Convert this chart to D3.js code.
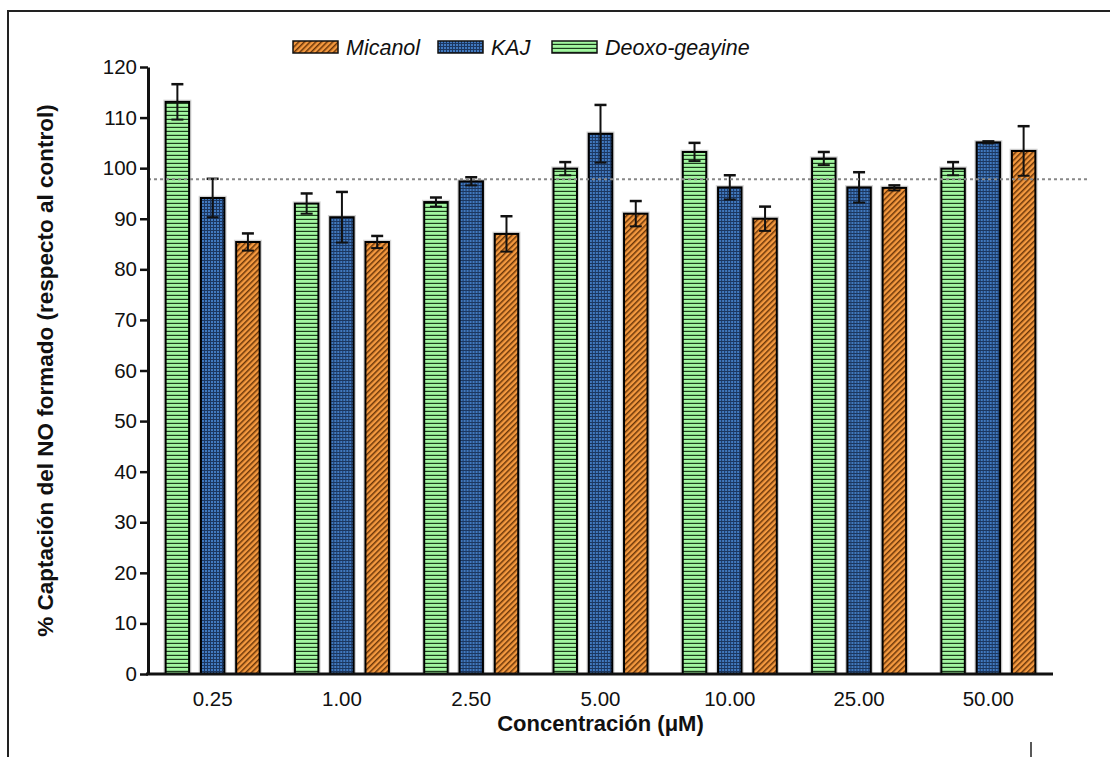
<!DOCTYPE html>
<html>
<head>
<meta charset="utf-8">
<script src="https://cdn.jsdelivr.net/npm/d3@7"></script>
<style>
  body { margin: 0; background: #fff; }
  svg { display: block; font-family: Arial, "Liberation Sans", sans-serif; }
</style>
</head>
<body>
<div id="chart"></div>
<script>
// data
const concentrations = ["0.25", "1.00", "2.50", "5.00", "10.00", "25.00", "50.00"];
const seriesNames = ["Deoxo-geayine", "KAJ", "Micanol"];
const deoxo = [113.1, 93.0, 93.3, 99.9, 103.2, 101.9, 99.9];
const deoxoErr = [3.5, 2.0, 0.9, 1.3, 1.8, 1.3, 1.3];
const kaj = [94.1, 90.3, 97.4, 106.8, 96.2, 96.2, 105.1];
const kajErr = [3.8, 5.0, 0.8, 5.7, 2.4, 3.0, 0.2];
const micanol = [85.4, 85.4, 87.0, 91.0, 90.0, 96.1, 103.4];
const micanolErr = [1.7, 1.2, 3.5, 2.5, 2.4, 0.5, 4.9];
const controlLevel = 97.8;
const yTicks = d3.range(0, 121, 10);
const legendOrder = ["Micanol", "KAJ", "Deoxo-geayine"];

const width = 1110, height = 757;
const margin = { left: 148, right: 57, top: 67, bottom: 83 };
const font = "Arial, 'Liberation Sans', sans-serif";

const svg = d3.select("#chart").append("svg")
  .attr("width", width)
  .attr("height", height);

// patterns for the bar fills
const defs = svg.append("defs");
let pg = defs.append("pattern").attr("id", "pat-green")
  .attr("patternUnits", "userSpaceOnUse").attr("width", 4).attr("height", 4);
pg.append("rect").attr("width", 4).attr("height", 4).attr("fill", "#a2f7a0");
pg.append("rect").attr("y", 2.8).attr("width", 4).attr("height", 1.2).attr("fill", "#1d3d1d");

let pb = defs.append("pattern").attr("id", "pat-blue")
  .attr("patternUnits", "userSpaceOnUse").attr("width", 3).attr("height", 3);
pb.append("rect").attr("width", 3).attr("height", 3).attr("fill", "#4179bf");
pb.append("rect").attr("x", 2).attr("y", 0).attr("width", 1).attr("height", 3).attr("fill", "#1c3760");
pb.append("rect").attr("x", 0).attr("y", 2).attr("width", 3).attr("height", 1).attr("fill", "#1c3760");

let po = defs.append("pattern").attr("id", "pat-orange")
  .attr("patternUnits", "userSpaceOnUse").attr("width", 4).attr("height", 4)
  .attr("patternTransform", "rotate(45)");
po.append("rect").attr("width", 4).attr("height", 4).attr("fill", "#f4993f");
po.append("rect").attr("x", 0).attr("width", 1.5).attr("height", 4).attr("fill", "#6b3608");

const fills = {
  "Deoxo-geayine": "url(#pat-green)",
  "KAJ": "url(#pat-blue)",
  "Micanol": "url(#pat-orange)"
};

// outer frame
svg.append("rect")
  .attr("x", 8).attr("y", 11)
  .attr("width", 1200).attr("height", 800)
  .attr("fill", "none").attr("stroke", "#222").attr("stroke-width", 2);
svg.append("line")
  .attr("x1", 1031).attr("x2", 1031).attr("y1", 742).attr("y2", 757)
  .attr("stroke", "#222").attr("stroke-width", 1.5);

const x0 = d3.scaleBand()
  .domain(concentrations)
  .range([margin.left, width - margin.right])
  .padding(0);
const x1 = d3.scaleBand()
  .domain(seriesNames)
  .range([0, x0.bandwidth()])
  .paddingInner(0.334)
  .paddingOuter(0.5);
const y = d3.scaleLinear().domain([0, 120]).range([height - margin.bottom, margin.top]);

const rows = concentrations.map((c, i) => ({
  conc: c,
  bars: [
    { name: "Deoxo-geayine", v: deoxo[i], e: deoxoErr[i] },
    { name: "KAJ", v: kaj[i], e: kajErr[i] },
    { name: "Micanol", v: micanol[i], e: micanolErr[i] }
  ]
}));

const groups = svg.append("g").selectAll("g")
  .data(rows)
  .join("g")
  .attr("transform", d => `translate(${x0(d.conc)},0)`);

// faint shadow around bars
groups.selectAll("rect.shadow")
  .data(d => d.bars)
  .join("rect")
  .attr("class", "shadow")
  .attr("x", d => x1(d.name) - 1.5)
  .attr("y", d => y(d.v) - 1.5)
  .attr("width", x1.bandwidth() + 3)
  .attr("height", d => y(0) - y(d.v) + 1.5)
  .attr("fill", "none")
  .attr("stroke", "#d4d4d4")
  .attr("stroke-width", 1.5);

groups.selectAll("rect.bar")
  .data(d => d.bars)
  .join("rect")
  .attr("class", "bar")
  .attr("x", d => x1(d.name))
  .attr("y", d => y(d.v))
  .attr("width", x1.bandwidth())
  .attr("height", d => y(0) - y(d.v))
  .attr("fill", d => fills[d.name])
  .attr("stroke", "#000")
  .attr("stroke-width", 2);

// error bars
const eb = groups.selectAll("g.err")
  .data(d => d.bars)
  .join("g")
  .attr("class", "err")
  .attr("transform", d => `translate(${x1(d.name) + x1.bandwidth() / 2},0)`);
eb.append("line")
  .attr("y1", d => y(d.v + d.e)).attr("y2", d => y(d.v - d.e))
  .attr("stroke", "#111").attr("stroke-width", 2);
eb.append("line")
  .attr("x1", -6).attr("x2", 6)
  .attr("y1", d => y(d.v + d.e)).attr("y2", d => y(d.v + d.e))
  .attr("stroke", "#111").attr("stroke-width", 2.5);
eb.append("line")
  .attr("x1", -6).attr("x2", 6)
  .attr("y1", d => y(d.v - d.e)).attr("y2", d => y(d.v - d.e))
  .attr("stroke", "#111").attr("stroke-width", 2);

// control reference line
svg.append("line")
  .attr("x1", margin.left).attr("x2", 1087)
  .attr("y1", y(controlLevel)).attr("y2", y(controlLevel))
  .attr("stroke", "#888").attr("stroke-width", 2)
  .attr("stroke-dasharray", "3,3");

// y axis
const yAxis = svg.append("g")
  .attr("transform", `translate(${margin.left},0)`)
  .call(d3.axisLeft(y).tickValues(yTicks).tickSize(8).tickPadding(3).tickSizeOuter(0));
yAxis.select(".domain").attr("stroke", "#111").attr("stroke-width", 3);
yAxis.selectAll(".tick line").attr("stroke", "#111").attr("stroke-width", 2.5);
yAxis.selectAll(".tick text")
  .attr("font-size", 20.5).attr("font-family", font).attr("fill", "#111");

// x axis
const xAxis = svg.append("g")
  .attr("transform", `translate(0,${y(0)})`)
  .call(d3.axisBottom(x0).tickSize(0).tickPadding(17).tickSizeOuter(0));
xAxis.select(".domain").attr("stroke", "#111").attr("stroke-width", 3)
  .attr("d", `M${margin.left - 2},0H${width - margin.right}`);
xAxis.selectAll(".tick text")
  .attr("font-size", 20.5).attr("font-family", font).attr("fill", "#111");

// axis titles
svg.append("text")
  .attr("x", (margin.left + width - margin.right) / 2)
  .attr("y", 731)
  .attr("text-anchor", "middle")
  .attr("font-size", 22).attr("font-weight", "bold").attr("fill", "#111")
  .text("Concentración (μM)");

svg.append("text")
  .attr("transform", `translate(53,${(y(0) + y(120)) / 2}) rotate(-90)`)
  .attr("text-anchor", "middle")
  .attr("font-size", 22.5).attr("font-weight", "bold").attr("fill", "#111")
  .text("% Captación del NO formado (respecto al control)");

// legend
const legendX = [293, 438, 552];
const legend = svg.append("g").selectAll("g")
  .data(legendOrder)
  .join("g")
  .attr("transform", (d, i) => `translate(${legendX[i]},41)`);
legend.append("rect")
  .attr("width", 45).attr("height", 12)
  .attr("fill", d => fills[d])
  .attr("stroke", "#111").attr("stroke-width", 1.5);
legend.append("text")
  .attr("x", 53).attr("y", 14)
  .attr("font-size", 21.5).attr("font-style", "italic").attr("fill", "#111")
  .text(d => d);
</script>
</body>
</html>
